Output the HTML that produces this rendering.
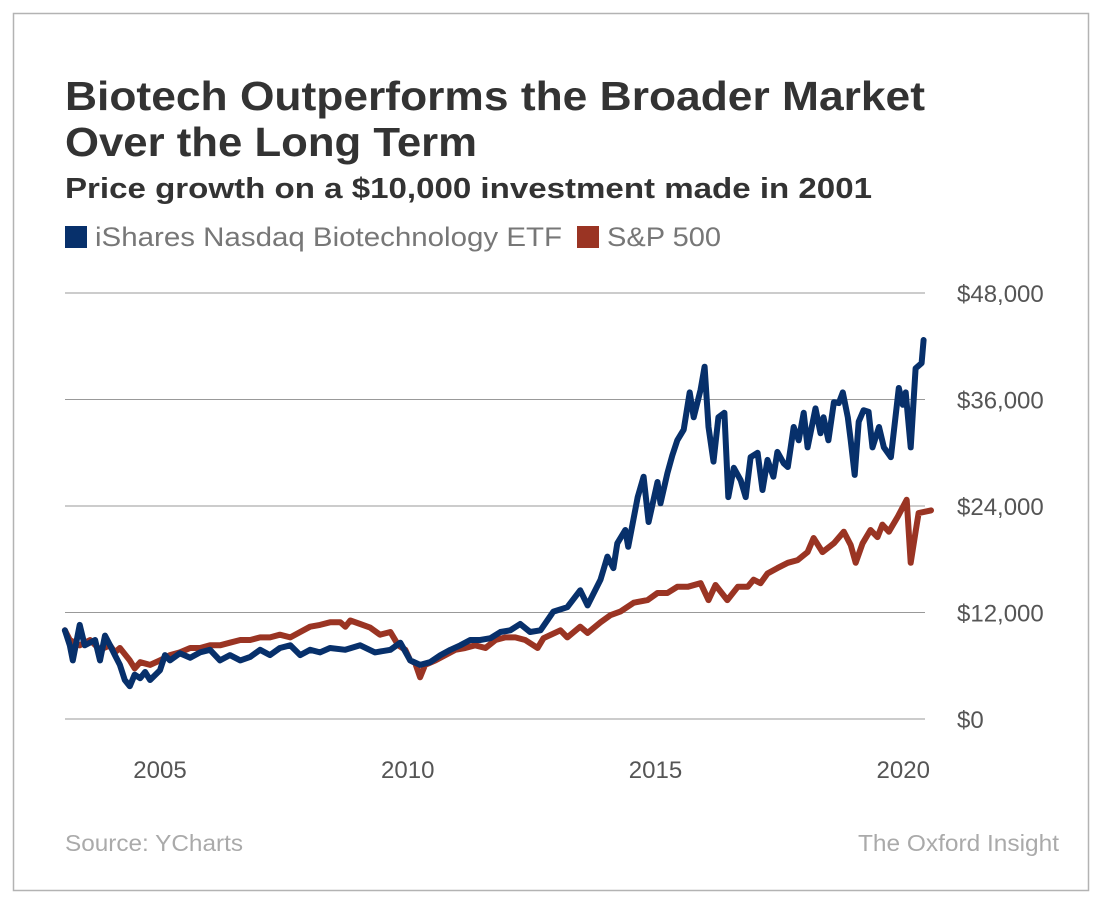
<!DOCTYPE html>
<html><head><meta charset="utf-8"><style>
body{margin:0;background:#fff;font-family:"Liberation Sans",sans-serif;}
#wrap{position:relative;width:1100px;height:905px;overflow:hidden;}
</style></head><body>
<div id="wrap">
<svg id="chart" width="1100" height="905">
<rect x="13.5" y="13.5" width="1075" height="877" fill="#fff" stroke="#b3b3b3" stroke-width="1.5"/>
<text x="65" y="110" font-size="41" font-weight="bold" fill="#333" textLength="860" lengthAdjust="spacingAndGlyphs">Biotech Outperforms the Broader Market</text>
<text x="65" y="156" font-size="41" font-weight="bold" fill="#333" textLength="412" lengthAdjust="spacingAndGlyphs">Over the Long Term</text>
<text x="65" y="198" font-size="29" font-weight="bold" fill="#333" textLength="807" lengthAdjust="spacingAndGlyphs">Price growth on a $10,000 investment made in 2001</text>
<g>
<rect x="65" y="226" width="22" height="22" fill="#07306b"/>
<text x="95" y="246" font-size="27" fill="#777" textLength="467" lengthAdjust="spacingAndGlyphs">iShares Nasdaq Biotechnology ETF</text>
<rect x="577" y="226" width="22" height="22" fill="#9a3423"/>
<text x="607" y="246" font-size="27" fill="#777" textLength="114" lengthAdjust="spacingAndGlyphs">S&amp;P 500</text>
</g>
<g id="grid"></g><g id="ylab"></g><g id="xlab"></g><g id="lines"></g>
<text x="65" y="851" font-size="23" fill="#aaa" textLength="178" lengthAdjust="spacingAndGlyphs">Source: YCharts</text>
<text x="858" y="851" font-size="23" fill="#aaa" textLength="201" lengthAdjust="spacingAndGlyphs">The Oxford Insight</text>
</svg>
</div>
<script>
const yTicks=[0,12000,24000,36000,48000];
const yTickLabels=["$0","$12,000","$24,000","$36,000","$48,000"];
const xTicks=[2005,2010,2015,2020];
const bioYears=[2003.08,2003.18,2003.24,2003.38,2003.48,2003.69,2003.79,2003.89,2003.99,2004.09,2004.19,2004.29,2004.39,2004.49,2004.60,2004.70,2004.80,2005.00,2005.10,2005.20,2005.40,2005.61,2005.81,2006.01,2006.21,2006.41,2006.62,2006.82,2007.02,2007.22,2007.42,2007.63,2007.83,2008.03,2008.23,2008.43,2008.74,2009.04,2009.34,2009.65,2009.85,2010.05,2010.25,2010.45,2010.66,2010.86,2011.06,2011.26,2011.46,2011.67,2011.87,2012.07,2012.27,2012.47,2012.68,2012.94,2013.22,2013.48,2013.63,2013.89,2014.03,2014.15,2014.23,2014.39,2014.45,2014.64,2014.76,2014.86,2015.04,2015.10,2015.24,2015.34,2015.44,2015.57,2015.69,2015.77,2015.91,2015.99,2016.07,2016.17,2016.27,2016.39,2016.47,2016.58,2016.72,2016.82,2016.92,2017.06,2017.16,2017.26,2017.38,2017.46,2017.59,2017.67,2017.79,2017.89,2017.99,2018.07,2018.23,2018.33,2018.39,2018.49,2018.60,2018.70,2018.78,2018.88,2018.94,2019.02,2019.10,2019.20,2019.30,2019.38,2019.51,2019.61,2019.75,2019.91,2019.99,2020.05,2020.15,2020.25,2020.37,2020.41];
const bioValues=[10.0,8.3,6.6,10.6,8.3,8.9,6.6,9.4,8.3,7.2,6.1,4.4,3.7,5.0,4.6,5.3,4.4,5.5,7.2,6.6,7.4,6.9,7.5,7.8,6.6,7.2,6.6,7.0,7.8,7.2,8.0,8.3,7.2,7.8,7.5,8.0,7.8,8.3,7.5,7.8,8.6,6.6,6.1,6.4,7.2,7.8,8.3,8.9,8.9,9.1,9.8,10.0,10.7,9.8,10.0,12.1,12.6,14.5,12.8,15.7,18.3,17.0,19.8,21.3,19.4,25.0,27.3,22.2,26.7,24.3,27.7,29.7,31.4,32.6,36.8,34.0,37.1,39.7,32.9,29.0,34.0,34.5,25.0,28.3,26.9,25.0,29.5,30.0,25.8,29.2,27.3,30.1,28.8,28.4,32.9,31.4,34.5,30.6,35.0,32.2,34.0,31.4,35.7,35.6,36.8,34.0,31.4,27.5,33.5,34.8,34.6,30.6,32.9,30.6,29.5,37.3,35.4,36.8,30.6,39.5,40.1,42.7];
const spYears=[2003.08,2003.18,2003.38,2003.59,2003.79,2003.99,2004.09,2004.19,2004.39,2004.49,2004.60,2004.80,2005.00,2005.20,2005.40,2005.61,2005.81,2006.01,2006.21,2006.41,2006.62,2006.82,2007.02,2007.22,2007.42,2007.63,2007.83,2008.03,2008.23,2008.43,2008.64,2008.74,2008.84,2009.04,2009.24,2009.44,2009.65,2009.81,2009.95,2010.05,2010.15,2010.25,2010.35,2010.56,2010.76,2010.96,2011.16,2011.36,2011.57,2011.77,2011.97,2012.17,2012.37,2012.62,2012.74,2013.08,2013.22,2013.48,2013.63,2013.89,2014.09,2014.29,2014.56,2014.84,2015.04,2015.24,2015.44,2015.65,2015.91,2016.07,2016.21,2016.45,2016.66,2016.86,2016.98,2017.12,2017.26,2017.46,2017.67,2017.87,2018.07,2018.19,2018.37,2018.60,2018.80,2018.94,2019.04,2019.18,2019.34,2019.48,2019.58,2019.71,2019.89,2020.07,2020.15,2020.25,2020.31,2020.56];
const spValues=[10.0,8.9,8.3,8.9,7.8,8.3,7.5,8.0,6.6,5.7,6.4,6.1,6.6,7.2,7.5,8.0,8.0,8.3,8.3,8.6,8.9,8.9,9.2,9.2,9.5,9.2,9.8,10.4,10.6,10.9,10.9,10.4,11.1,10.7,10.3,9.5,9.8,8.3,7.8,6.6,6.3,4.7,6.1,6.6,7.2,7.8,8.0,8.3,8.0,8.9,9.2,9.2,8.9,8.0,9.1,10.0,9.2,10.4,9.7,10.9,11.7,12.1,13.1,13.4,14.2,14.2,14.9,14.9,15.3,13.4,15.1,13.4,14.9,14.9,15.7,15.3,16.4,17.0,17.6,17.9,18.8,20.4,18.8,19.8,21.1,19.6,17.6,19.8,21.3,20.5,21.9,21.1,22.8,24.7,17.6,21.1,23.2,23.5];
const NS="http://www.w3.org/2000/svg";
function xs(yr){return 160+(yr-2005)*49.55;}
function ys(v){return 719-v*(426/48000);}
const grid=document.getElementById('grid'),ylab=document.getElementById('ylab'),xlab=document.getElementById('xlab'),lines=document.getElementById('lines');
yTicks.forEach((t,i)=>{
 const l=document.createElementNS(NS,'line');
 l.setAttribute('x1',65);l.setAttribute('x2',925);l.setAttribute('y1',ys(t));l.setAttribute('y2',ys(t));
 l.setAttribute('stroke','#999');l.setAttribute('stroke-width','1');
 
 
 grid.appendChild(l);
 const tx=document.createElementNS(NS,'text');
 tx.setAttribute('x',957);tx.setAttribute('y',ys(t)+9);tx.setAttribute('font-size','24');tx.setAttribute('fill','#555');
 tx.textContent=yTickLabels[i];
 
 
 ylab.appendChild(tx);
});
xTicks.forEach(t=>{
 const tx=document.createElementNS(NS,'text');
 tx.setAttribute('x',xs(t));tx.setAttribute('y',778);tx.setAttribute('font-size','24');tx.setAttribute('fill','#555');tx.setAttribute('text-anchor','middle');
 tx.textContent=t;
 
 
 xlab.appendChild(tx);
});
function draw(yrs,vals,color,name){
 const p=document.createElementNS(NS,'polyline');
 p.setAttribute('points',yrs.map((y,i)=>xs(y).toFixed(1)+','+ys(vals[i]*1000).toFixed(1)).join(' '));
 p.setAttribute('fill','none');p.setAttribute('stroke',color);p.setAttribute('stroke-width','6');p.setAttribute('stroke-linejoin','round');p.setAttribute('stroke-linecap','round');
 
 
 lines.appendChild(p);
}
draw(spYears,spValues,'#9a3423','sp500-line');
draw(bioYears,bioValues,'#07306b','biotech-etf-line');
</script>
</body></html>
